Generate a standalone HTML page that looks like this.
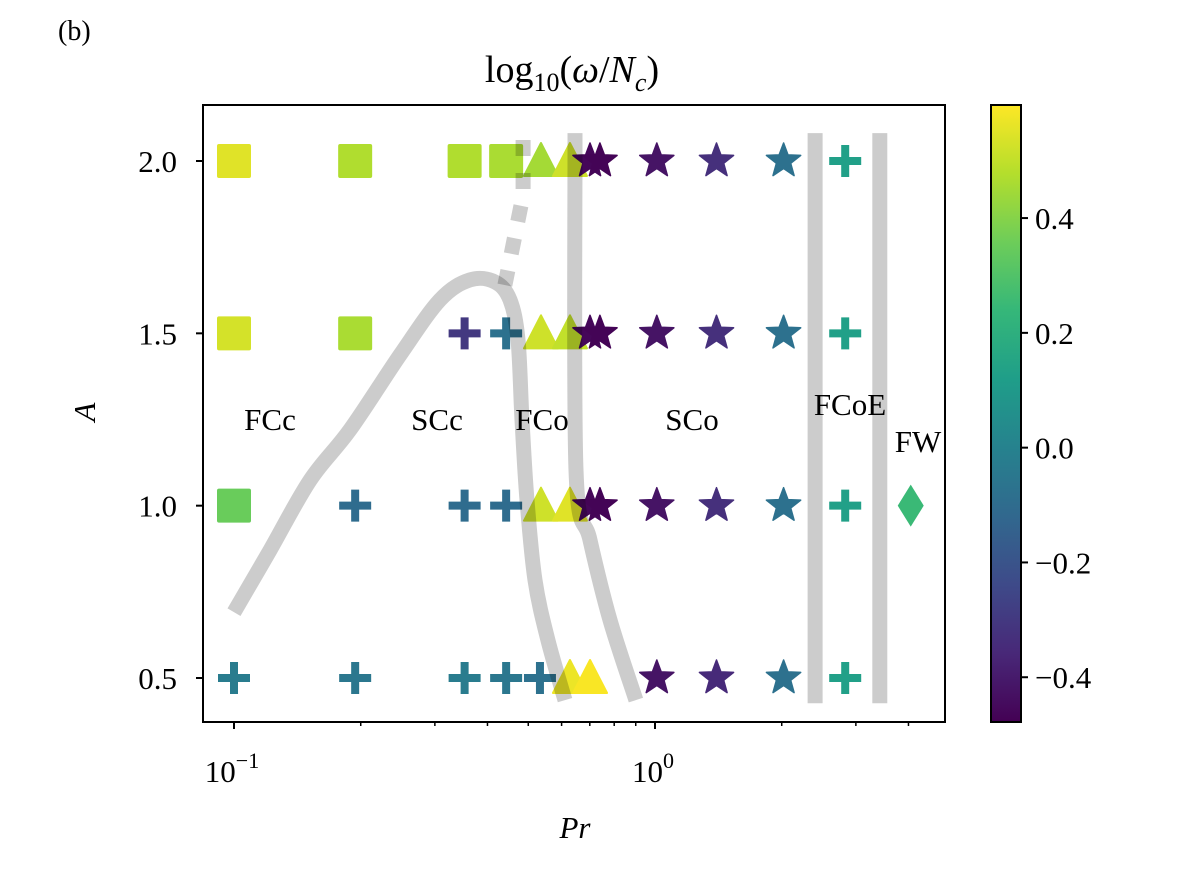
<!DOCTYPE html>
<html><head><meta charset="utf-8"><style>
body{margin:0;background:#fff}
svg text{font-family:"Liberation Serif",serif;fill:#000}
</style></head><body>
<svg id="chart" width="1186" height="889" viewBox="0 0 1186 889" xmlns="http://www.w3.org/2000/svg">
<text x="58" y="40" font-size="28">(b)</text>
<text x="572" y="82" font-size="38" text-anchor="middle">log<tspan font-size="26" dy="9">10</tspan><tspan dy="-9">(</tspan><tspan font-style="italic">ω</tspan>/<tspan font-style="italic">N</tspan><tspan font-size="26" font-style="italic" dy="9">c</tspan><tspan dy="-9">)</tspan></text>
<g id="marks"></g>
<g id="lines"></g>
<rect x="203" y="105" width="742" height="617" fill="none" stroke="#000" stroke-width="2"/>
<g id="axes"></g>
<g id="regions" font-size="31">
<text x="270" y="430" text-anchor="middle">FCc</text>
<text x="437" y="430" text-anchor="middle">SCc</text>
<text x="542" y="430" text-anchor="middle">FCo</text>
<text x="692" y="430" text-anchor="middle">SCo</text>
<text x="850" y="415" text-anchor="middle">FCoE</text>
<text x="918" y="452" text-anchor="middle">FW</text>
</g>
<text x="575" y="838" font-size="31" font-style="italic" text-anchor="middle">Pr</text>
<text x="0" y="0" font-size="31" font-style="italic" text-anchor="middle" transform="translate(95,412) rotate(-90)">A</text>
<defs><linearGradient id="vir" x1="0" y1="1" x2="0" y2="0"></linearGradient></defs>
<rect x="991" y="105" width="30" height="617" fill="url(#vir)" stroke="#000" stroke-width="2"/>
<g id="cbticks"></g>
</svg>
<script>
const pts=[
// [Pr, A, value, shape]
[0.1,2,0.55,'s'],[0.194,2,0.47,'s'],[0.353,2,0.47,'s'],[0.443,2,0.46,'s'],[0.536,2,0.45,'t'],[0.628,2,0.52,'t'],[0.701,2,-0.46,'*'],[0.74,2,-0.47,'*'],[1.01,2,-0.42,'*'],[1.40,2,-0.33,'*'],[2.02,2,-0.08,'*'],[2.83,2,0.13,'+'],
[0.1,1.5,0.53,'s'],[0.194,1.5,0.46,'s'],[0.353,1.5,-0.3,'+'],[0.443,1.5,-0.08,'+'],[0.536,1.5,0.52,'t'],[0.628,1.5,0.5,'t'],[0.701,1.5,-0.46,'*'],[0.74,1.5,-0.47,'*'],[1.01,1.5,-0.42,'*'],[1.40,1.5,-0.33,'*'],[2.02,1.5,-0.08,'*'],[2.83,1.5,0.13,'+'],
[0.1,1,0.35,'s'],[0.194,1,-0.1,'+'],[0.353,1,-0.1,'+'],[0.443,1,-0.1,'+'],[0.536,1,0.52,'t'],[0.628,1,0.55,'t'],[0.701,1,-0.46,'*'],[0.74,1,-0.47,'*'],[1.01,1,-0.42,'*'],[1.40,1,-0.33,'*'],[2.02,1,-0.08,'*'],[2.83,1,0.13,'+'],[4.05,1,0.25,'d'],
[0.1,0.5,-0.03,'+'],[0.194,0.5,-0.05,'+'],[0.353,0.5,-0.03,'+'],[0.443,0.5,-0.05,'+'],[0.533,0.5,-0.08,'+'],[0.628,0.5,0.57,'t'],[0.701,0.5,0.59,'t'],[1.01,0.5,-0.42,'*'],[1.40,0.5,-0.35,'*'],[2.02,0.5,-0.08,'*'],[2.83,0.5,0.13,'+']
];
const curve1Pr=[0.1,0.1218,0.1516,0.1886,0.2479,0.3085,0.3636,0.4169,0.4524,0.4726,0.4831,0.4966,0.5188,0.5568,0.6112];
const curve1A=[0.691,0.871,1.074,1.22,1.437,1.597,1.655,1.649,1.597,1.481,1.249,1.016,0.784,0.61,0.436];
const dotPr=[0.486,0.486,0.44];
const dotA=[2.061,1.901,1.64];
const curve2Pr=[0.6457,0.6492,0.701,0.782,0.901];
const curve2A=[2.081,1.103,0.9,0.668,0.436];
const vlinePr=[2.40,3.42];
const vlineA=[2.081,0.427];
const yTicks=[0.5,1.0,1.5,2.0];
const yTickLabels=['0.5','1.0','1.5','2.0'];
const cbTicks=[-0.4,-0.2,0.0,0.2,0.4];
const cbTickLabels=['\u22120.4','\u22120.2','0.0','0.2','0.4'];
const vmin=-0.478,vmax=0.597;
const X=p=>655+421*Math.log10(p);
const Y=a=>161+(2-a)*344.67;
const CB=v=>722-(v-vmin)/(vmax-vmin)*617;
const vir=[[68,1,84],[72,40,120],[62,74,137],[49,104,142],[38,130,142],[31,158,137],[53,183,121],[109,205,89],[180,222,44],[253,231,37]];
function col(v){let t=Math.max(0,Math.min(1,(v-vmin)/(vmax-vmin)))*(vir.length-1);let i=Math.min(vir.length-2,Math.floor(t)),f=t-i;const c=vir[i].map((a,k)=>Math.round(a+(vir[i+1][k]-a)*f));return `rgb(${c})`;}
const NS='http://www.w3.org/2000/svg';
function mk(tag,at,parent){const e=document.createElementNS(NS,tag);for(const k in at)e.setAttribute(k,at[k]);parent.appendChild(e);return e;}
const g=document.getElementById('marks');
pts.forEach(([p,a,v,s])=>{const x=X(p),y=Y(a),c=col(v);let e;
 if(s==='s')e=mk('rect',{x:x-17,y:y-17,width:34,height:34,rx:2,fill:c},g);
 else if(s==='t')e=mk('polygon',{points:`${x},${y-18} ${x-17},${y+15} ${x+17},${y+15}`,fill:c,'stroke':c,'stroke-linejoin':'round','stroke-width':2},g);
 else if(s==='+')e=mk('path',{d:`M${x-16},${y}H${x+16}M${x},${y-16}V${y+16}`,stroke:c,'stroke-width':8},g);
 else if(s==='d')e=mk('polygon',{points:`${x},${y-21} ${x+13},${y} ${x},${y+21} ${x-13},${y}`,fill:c},g);
 else{let q=[];for(let i=0;i<10;i++){const r=i%2?7.5:18,an=-Math.PI/2+i*Math.PI/5;q.push((x+r*Math.cos(an)).toFixed(1)+','+(y+r*Math.sin(an)).toFixed(1));}
  e=mk('polygon',{points:q.join(' '),fill:c,stroke:c,'stroke-width':1.5,'stroke-linejoin':'round'},g);}
 
 
});
const L=document.getElementById('lines');
function smooth(P){let d='M'+P[0][0].toFixed(1)+','+P[0][1].toFixed(1);
 for(let i=0;i<P.length-1;i++){const p0=P[Math.max(0,i-1)],p1=P[i],p2=P[i+1],p3=P[Math.min(P.length-1,i+2)];
  const c1=[p1[0]+(p2[0]-p0[0])/6,p1[1]+(p2[1]-p0[1])/6],c2=[p2[0]-(p3[0]-p1[0])/6,p2[1]-(p3[1]-p1[1])/6];
  d+=`C${c1[0].toFixed(1)},${c1[1].toFixed(1)} ${c2[0].toFixed(1)},${c2[1].toFixed(1)} ${p2[0].toFixed(1)},${p2[1].toFixed(1)}`;}
 return d;}
function line(P,A,name,dash,sm){const pp=P.map((p,i)=>[X(p),Y(A[i])]);
 const d=sm?smooth(pp):pp.map((q,i)=>(i?'L':'M')+q[0].toFixed(1)+','+q[1].toFixed(1)).join('');
 const e=mk('path',{d:d,fill:'none',stroke:'rgba(0,0,0,0.2)','stroke-width':15,'stroke-linejoin':'round'},L);if(dash)e.setAttribute('stroke-dasharray',dash);
 
 }
line(curve1Pr,curve1A,'boundary-curve-left',null,true);
line(dotPr,dotA,'boundary-dotted','16,17',false);
line(curve2Pr,curve2A,'boundary-curve-right',null,true);
vlinePr.forEach((p,i)=>line([p,p],vlineA,'boundary-vertical-'+i,null,false));
const ax=document.getElementById('axes');
yTicks.forEach((t,i)=>{const y=Y(t);const l=mk('line',{x1:196,x2:203,y1:y,y2:y,stroke:'#000','stroke-width':2},ax);
 
 
 const tx=mk('text',{x:177,y:y+11,'text-anchor':'end','font-size':31},ax);tx.textContent=yTickLabels[i];
 
 });
for(let d=-1;d<=0;d++)for(let m=1;m<=9;m++){const p=m*Math.pow(10,d);const x=X(p);if(x<203||x>945)continue;
 const l=mk('line',{x1:x,x2:x,y1:722,y2:m===1?729:726,stroke:'#000','stroke-width':m===1?2:1.5},ax);
 
 
 if(m===1){const tx=mk('text',{x:x-2,y:782,'text-anchor':'middle','font-size':31},ax);tx.innerHTML='10<tspan font-size="22" dy="-14">'+(d===0?'0':'\u22121')+'</tspan>';
 
 }}
const gr=document.getElementById('vir');
vir.forEach((c,i)=>mk('stop',{offset:i/(vir.length-1),'stop-color':`rgb(${c})`},gr));
const cb=document.getElementById('cbticks');
cbTicks.forEach((t,i)=>{const y=CB(t);const l=mk('line',{x1:1021,x2:1028,y1:y,y2:y,stroke:'#000','stroke-width':2},cb);
 
 
 const tx=mk('text',{x:1035,y:y+11,'font-size':31},cb);tx.textContent=cbTickLabels[i];
 
 });
</script>
</body></html>
